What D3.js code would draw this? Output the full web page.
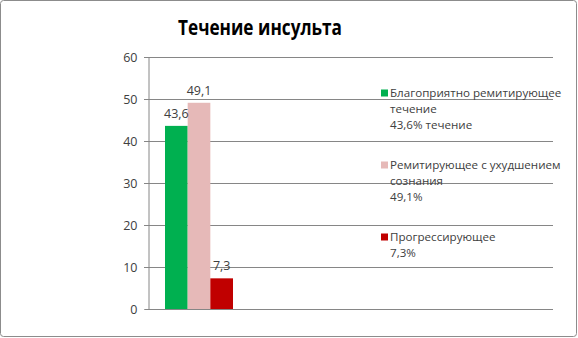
<!DOCTYPE html>
<html><head><meta charset="utf-8">
<script src="https://cdn.jsdelivr.net/npm/d3@7"></script>
<style>
html,body{margin:0;padding:0;background:#fff;}
svg{display:block;}
text{font-family:"Open Sans","Noto Sans",sans-serif;}
</style></head>
<body>
<svg id="chart" width="578" height="338"></svg>
<script>
const title = "Течение инсульта";
const categories = ["Течение"];
const seriesNames = ["Благоприятно ремитирующее течение", "Ремитирующее с ухудшением сознания", "Прогрессирующее"];
const seriesValues = [43.6, 49.1, 7.3];
const valueLabels = ["43,6", "49,1", "7,3"];
const legendLines = [
  ["Благоприятно ремитирующее", "течение", "43,6% течение"],
  ["Ремитирующее с ухудшением", "сознания", "49,1%"],
  ["Прогрессирующее", "7,3%"]
];
const seriesColors = ["#00B050", "#E6B9B8", "#C00000"];
const yTicks = [0, 10, 20, 30, 40, 50, 60];

const svg = d3.select("#chart");
svg.append("rect").attr("x", 0.5).attr("y", 0.5).attr("width", 576).attr("height", 336)
  .attr("rx", 3).attr("fill", "#fff").attr("stroke", "#8c8c8c").attr("stroke-width", 1);

svg.append("text").attr("x", 260).attr("y", 35).attr("text-anchor", "middle")
  .attr("font-size", 21).attr("font-weight", "bold").attr("fill", "#000")
  .attr("textLength", 164).attr("lengthAdjust", "spacingAndGlyphs").text(title);

const plot = {left: 148, right: 553, top: 57, bottom: 309};
const y = d3.scaleLinear().domain([0, 60]).range([plot.bottom, plot.top]);

// category band: gap 150% of bar width
const x0 = d3.scaleBand().domain(categories).range([plot.left, plot.left + 102]).paddingInner(0).paddingOuter(0);
const x1 = d3.scaleBand().domain(d3.range(seriesValues.length)).range([0, x0.bandwidth()]).paddingOuter(0.75).paddingInner(0);

// gridlines
svg.append("g").selectAll("line").data(yTicks.filter(t => t > 0)).join("line")
  .attr("x1", plot.left - 4).attr("x2", plot.right)
  .attr("y1", d => Math.round(y(d)) + 0.5).attr("y2", d => Math.round(y(d)) + 0.5)
  .attr("stroke", "#868686").attr("stroke-width", 1);

// y axis
const yAxis = d3.axisLeft(y).tickValues(yTicks).tickSize(4).tickPadding(7).tickFormat(d3.format("d"));
const gy = svg.append("g").attr("transform", `translate(${plot.left + 0.5},0)`).call(yAxis);
gy.select(".domain").attr("stroke", "#868686");
gy.selectAll(".tick line").attr("stroke", "#868686");
gy.selectAll(".tick text").attr("font-size", 12.5).attr("fill", "#404040")
  .attr("font-family", "'Open Sans','Noto Sans',sans-serif");

// baseline
svg.append("line").attr("x1", plot.left).attr("x2", plot.right)
  .attr("y1", y(0) + 0.5).attr("y2", y(0) + 0.5).attr("stroke", "#868686");

// bars
const g = svg.append("g").attr("transform", `translate(${x0(categories[0])},0)`);
g.selectAll("rect").data(seriesValues).join("rect")
  .attr("x", (d, i) => x1(i)).attr("width", x1.bandwidth())
  .attr("y", d => y(d)).attr("height", d => y(0) - y(d))
  .attr("fill", (d, i) => seriesColors[i]);
g.selectAll("text").data(seriesValues).join("text")
  .attr("x", (d, i) => x1(i) + x1.bandwidth() / 2).attr("y", d => y(d) - 8)
  .attr("text-anchor", "middle").attr("font-size", 12.5).attr("fill", "#404040")
  .text((d, i) => valueLabels[i]);

// legend
const legendStart = [93, 165, 237];
const lineH = 15.8;
const lg = svg.append("g");
legendLines.forEach((lines, i) => {
  lg.append("rect").attr("x", 381).attr("y", legendStart[i] - 3.5).attr("width", 7).attr("height", 7)
    .attr("fill", seriesColors[i]);
  lines.forEach((ln, j) => {
    lg.append("text").attr("x", 390).attr("y", legendStart[i] + j * lineH)
      .attr("dy", "0.35em").attr("font-size", 11.6).attr("fill", "#404040").text(ln);
  });
});
</script>
</body></html>
